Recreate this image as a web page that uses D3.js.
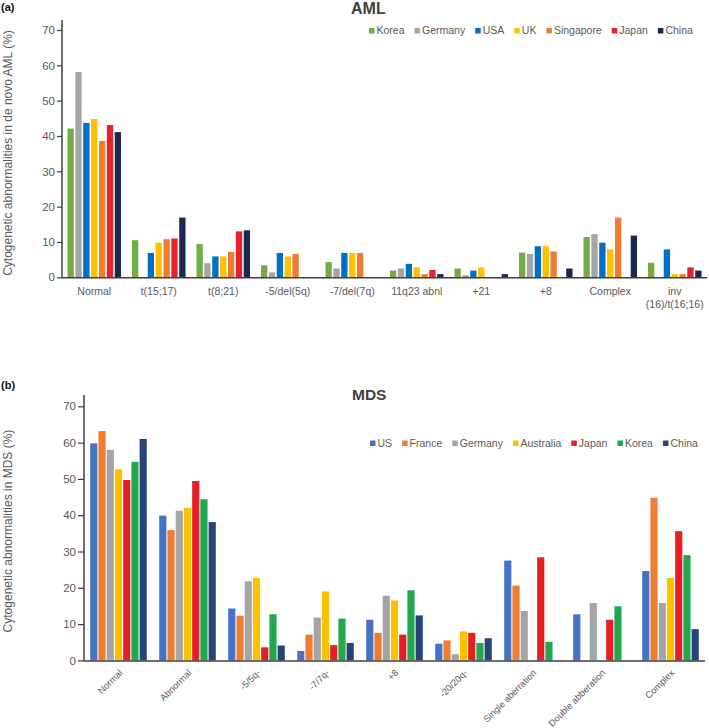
<!DOCTYPE html>
<html>
<head>
<meta charset="utf-8">
<script src="https://cdn.jsdelivr.net/npm/d3@7"></script>
<style>
  html, body { margin: 0; padding: 0; background: #fff; }
  svg { display: block; font-family: "Liberation Sans", Arial, sans-serif; }
</style>
</head>
<body>
<div id="chart"></div>
<script>
// ---------------- DATA ----------------
// Panel (a) AML
const amlCategories = ["Normal", "t(15;17)", "t(8;21)", "-5/del(5q)", "-7/del(7q)", "11q23 abnl", "+21", "+8", "Complex", "inv\n(16)/t(16;16)"];
const amlSeries = ["Korea", "Germany", "USA", "UK", "Singapore", "Japan", "China"];
const amlKorea     = [42.1, 10.5,  9.4, 3.4, 4.3, 1.9, 2.5, 7.0, 11.4, 4.1];
const amlGermany   = [58.1, null,  4.0, 1.4, 2.5, 2.5, 0.6, 6.6, 12.2, null];
const amlUSA       = [43.7,  6.9,  5.9, 6.9, 6.9, 3.8, 1.9, 8.8,  9.8, 7.9];
const amlUK        = [44.8,  9.8,  5.9, 5.9, 6.9, 2.8, 2.8, 8.8,  7.9, 0.9];
const amlSingapore = [38.6, 10.8,  7.2, 6.6, 6.9, 0.9, null, 7.3, 16.9, 0.9];
const amlJapan     = [43.1, 11.0, 13.0, null, null, 2.1, null, null, null, 2.8];
const amlChina     = [41.1, 16.9, 13.3, null, null, 0.9, 0.9, 2.5, 11.8, 1.9];
const amlValues = [amlKorea, amlGermany, amlUSA, amlUK, amlSingapore, amlJapan, amlChina];
const amlColors = ["#70AD47", "#A5A5A5", "#0070C0", "#FFC000", "#ED7D31", "#E8222A", "#1C2752"];

// Panel (b) MDS
const mdsCategories = ["Normal", "Abnormal", "-5/5q-", "-7/7q-", "+8", "-20/20q-", "Single aberration", "Double abberation", "Complex"];
const mdsSeries = ["US", "France", "Germany", "Australia", "Japan", "Korea", "China"];
const mdsUS        = [59.8, 39.9, 14.3,  2.6, 11.2, 4.6, 27.5, 12.7, 24.6];
const mdsFrance    = [63.2, 35.9, 12.3,  7.1,  7.6, 5.5, 20.6, null, 44.8];
const mdsGermany   = [58.0, 41.2, 21.8, 11.8, 17.8, 1.7, 13.6, 15.8, 15.8];
const mdsAustralia = [52.6, 42.0, 22.7, 19.0, 16.5, 8.0, null, null, 22.7];
const mdsJapan     = [49.7, 49.4,  3.6,  4.2,  7.1, 7.6, 28.4, 11.2, 35.6];
const mdsKorea     = [54.7, 44.4, 12.7, 11.5, 19.3, 4.8,  5.1, 14.9, 29.0];
const mdsChina     = [61.0, 38.1,  4.1,  4.8, 12.4, 6.1, null, null,  8.6];
const mdsValues = [mdsUS, mdsFrance, mdsGermany, mdsAustralia, mdsJapan, mdsKorea, mdsChina];
const mdsColors = ["#4472C4", "#ED7D31", "#A5A5A5", "#FFC000", "#E61E25", "#22A74A", "#264478"];

const yTicks = [0, 10, 20, 30, 40, 50, 60, 70];

// ---------------- DRAW ----------------
const W = 709, H = 728;
const svg = d3.select("#chart").append("svg").attr("width", W).attr("height", H);
const textColor = "#595959";
const axisColor = "#3f3f3f";

function drawPanel(c) {
  const g = svg.append("g");
  const x0 = d3.scaleBand().domain(c.categories).range(c.xRange).padding(0);
  const groupW = x0.bandwidth() * c.groupFrac;
  const x1 = d3.scaleBand().domain(c.series).range([(x0.bandwidth() - groupW) / 2, (x0.bandwidth() + groupW) / 2]).paddingInner(c.barPad);
  const y = d3.scaleLinear().domain([0, 70]).range(c.yRange);

  // bars
  c.series.forEach((s, si) => {
    const vals = c.values[si];
    g.append("g").selectAll("rect")
      .data(c.categories.map((cat, ci) => ({ cat, v: vals[ci] })).filter(d => d.v != null))
      .join("rect")
      .attr("x", d => x0(d.cat) + x1(s))
      .attr("y", d => y(d.v))
      .attr("width", x1.bandwidth())
      .attr("height", d => y(0) - y(d.v))
      .attr("fill", c.colors[si]);
  });

  // y axis
  const yAx = g.append("g").attr("transform", `translate(${c.xRange[0]},0)`)
    .call(d3.axisLeft(y).tickValues(yTicks).tickSize(c.tickSize).tickPadding(2));
  yAx.select(".domain").remove();
  yAx.selectAll(".tick line").attr("stroke", axisColor).attr("stroke-width", 1.2);
  yAx.selectAll(".tick text").attr("fill", textColor).style("font-size", "11.5px")
    .style("font-family", "'Liberation Sans', Arial, sans-serif");
  g.append("line").attr("x1", c.xRange[0]).attr("x2", c.xRange[0])
    .attr("y1", c.axisTop).attr("y2", y(0) + 0.5)
    .attr("stroke", axisColor).attr("stroke-width", 1.5);

  // x axis
  const xAx = g.append("g").attr("transform", `translate(0,${y(0)})`)
    .call(d3.axisBottom(x0).tickSize(0).tickPadding(0));
  xAx.select(".domain").remove();
  xAx.selectAll(".tick text").remove();
  g.append("line").attr("x1", c.xRange[0]).attr("x2", c.xRange[1])
    .attr("y1", y(0) + 0.5).attr("y2", y(0) + 0.5)
    .attr("stroke", axisColor).attr("stroke-width", 1.5);

  if (c.rotate) {
    xAx.selectAll(".tick").append("text")
      .attr("fill", textColor).style("font-size", "9.3px")
      .attr("text-anchor", "end")
      .attr("transform", `translate(4.5,13) rotate(-45)`)
      .text(d => d);
  } else {
    xAx.selectAll(".tick").append("text")
      .attr("fill", textColor).style("font-size", "10.5px")
      .attr("text-anchor", "middle")
      .each(function (d) {
        const lines = d.split("\n");
        d3.select(this).selectAll("tspan").data(lines).join("tspan")
          .attr("x", 0).attr("y", (l, i) => 18 + i * 13).text(l => l);
      });
  }

  // title
  g.append("text").attr("x", c.titleX).attr("y", c.titleY)
    .attr("fill", "#404040").style("font-size", c.titleSize + "px").style("font-weight", "bold")
    .text(c.title);

  // tag
  g.append("text").attr("x", 1).attr("y", c.tagY)
    .attr("fill", "#111").style("font-size", "11px").style("font-weight", "bold")
    .text(c.tag);

  // y label
  g.append("text")
    .attr("transform", `translate(${c.ylabelX},${c.ylabelY}) rotate(-90)`)
    .attr("text-anchor", "middle").attr("fill", textColor).style("font-size", "12px")
    .text(c.ylabel);

  // legend
  const leg = g.append("g");
  let lx = c.legendX;
  c.series.forEach((s, si) => {
    leg.append("rect").attr("x", lx).attr("y", c.legendY - 6).attr("width", 5.5).attr("height", 5.5)
      .attr("fill", c.colors[si]);
    const t = leg.append("text").attr("x", lx + 7.5).attr("y", c.legendY)
      .attr("fill", textColor).style("font-size", "10.5px").text(s);
    lx += 7.5 + t.node().getComputedTextLength() + c.legendGap;
  });
}

drawPanel({
  categories: amlCategories, series: amlSeries, values: amlValues, colors: amlColors,
  xRange: [62, 707], yRange: [277.3, 30], axisTop: 20, groupFrac: 0.83, barPad: 0.2, tickSize: 5,
  rotate: false,
  title: "AML", titleX: 351, titleY: 13.5, titleSize: 16,
  tag: "(a)", tagY: 11,
  ylabel: "Cytogenetic abnormalities in de novo AML (%)", ylabelX: 12, ylabelY: 153,
  legendX: 369, legendY: 34, legendGap: 10
});

drawPanel({
  categories: mdsCategories, series: mdsSeries, values: mdsValues, colors: mdsColors,
  xRange: [84, 705], yRange: [660.4, 406.3], axisTop: 395, groupFrac: 0.82, barPad: 0.13, tickSize: 6,
  rotate: true,
  title: "MDS", titleX: 352, titleY: 400, titleSize: 15.5,
  tag: "(b)", tagY: 389,
  ylabel: "Cytogenetic abnormalities in MDS (%)", ylabelX: 12, ylabelY: 531,
  legendX: 370, legendY: 446.5, legendGap: 10
});
</script>
</body>
</html>
